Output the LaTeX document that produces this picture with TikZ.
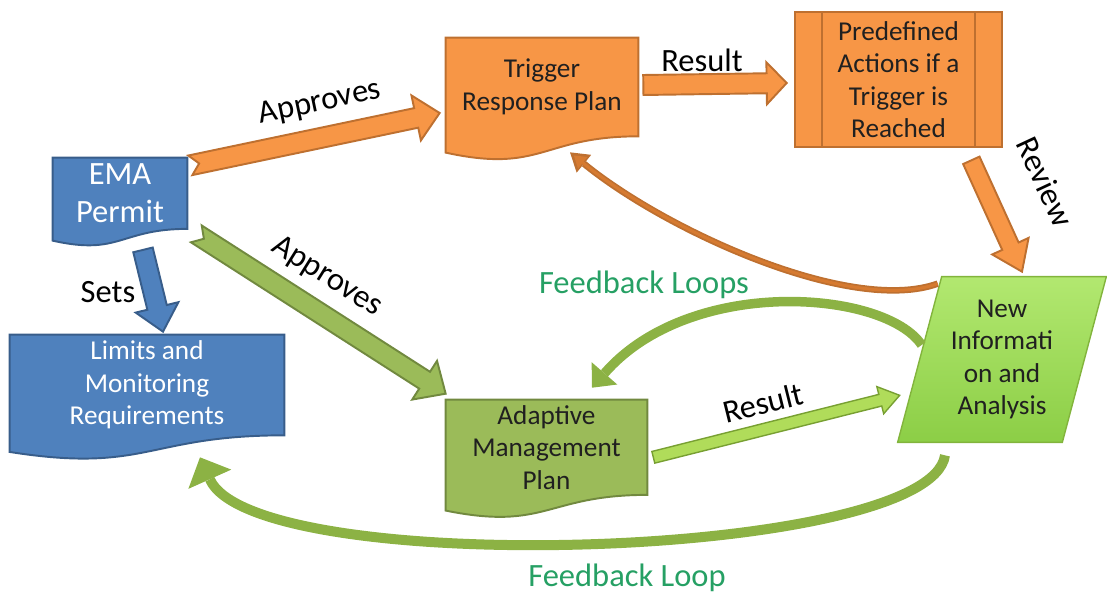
\documentclass[tikz,border=0pt]{standalone}
\usepackage{fontspec}
\setmainfont{Carlito}
\usetikzlibrary{calc,backgrounds,arrows.meta}

\definecolor{orFill}{RGB}{247,150,70}
\definecolor{orDraw}{RGB}{190,112,48}
\definecolor{buFill}{RGB}{79,129,189}
\definecolor{buDraw}{RGB}{56,93,138}
\definecolor{grFill}{RGB}{155,187,89}
\definecolor{grDraw}{RGB}{113,137,63}
\definecolor{lgFill}{RGB}{176,220,90}
\definecolor{lgDraw}{RGB}{120,160,50}
\definecolor{niTop}{RGB}{178,232,112}
\definecolor{niBot}{RGB}{140,206,70}
\definecolor{niDraw}{RGB}{130,180,60}
\definecolor{loopGreen}{RGB}{140,178,68}
\definecolor{loopText}{RGB}{38,160,100}
\definecolor{curveOr}{RGB}{214,122,48}
\definecolor{boxText}{RGB}{32,32,32}

\tikzset{
  planbox/.style={inner sep=0pt, align=center, text=boxText,
    font=\fontsize{15.5}{18.5}\selectfont},
  lbl/.style={inner sep=0pt, font=\fontsize{18.5}{22}\selectfont},
  fblbl/.style={lbl, text=loopText},
  orshape/.style={fill=orFill, draw=orDraw, line width=1.1pt},
  bushape/.style={fill=buFill, draw=buDraw, line width=1.1pt},
  grshape/.style={fill=grFill, draw=grDraw, line width=1.1pt},
  lgshape/.style={fill=lgFill, draw=lgDraw, line width=0.8pt},
  fbloop/.style={draw=loopGreen, line width=#1},
}

% box with a wavy lower edge
\newcommand\docshape[2]{%
  \filldraw[#2] (#1.north west) -- (#1.north east) -- (#1.south east)
    .. controls (#1.south) and ($(#1.south)!-0.38!(#1.north)$)
    .. ($(#1.south west)!-0.165!(#1.north west)$) -- cycle;}

% straight block arrow: style, from, to, half shaft, half head, head length, notch
\newcommand\blockarrow[7]{%
  \coordinate (ah) at ($(#3)!#6!(#2)$);
  \coordinate (an) at ($(#2)!#7!(#3)$);
  \filldraw[#1] ($(#2)!#4!90:(#3)$) -- ($(ah)!#4!-90:(#2)$)
    -- ($(ah)!#5!-90:(#2)$) -- (#3) -- ($(ah)!#5!90:(#2)$)
    -- ($(ah)!#4!90:(#2)$) -- ($(#2)!#4!-90:(#3)$) -- (an) -- cycle;}

\begin{document}
\begin{tikzpicture}[x=0.02cm, y=-0.02cm]
\useasboundingbox (0,0) rectangle (1107,597);

% boxes
\node[planbox, minimum width=3.84cm, minimum height=1.96cm] (trp) at (542,87) {Trigger\\Response Plan};
\node[planbox, minimum width=4.14cm, minimum height=2.7cm] (pda) at (898.5,79.5) {Predefined\\Actions if a\\Trigger is\\Reached};
\node[planbox, text=white, font=\fontsize{18.5}{21.5}\selectfont, minimum width=2.68cm, minimum height=1.41cm] (ema) at (120,193.3) {EMA\\Permit};
\node[planbox, text=white, minimum width=5.48cm, minimum height=2cm] (lim) at (147,385) {Limits and\\Monitoring\\Requirements};
\node[planbox, minimum width=4.02cm, minimum height=1.89cm] (amp) at (546.5,447.3) {Adaptive\\Management\\Plan};
\node[planbox, minimum width=3.28cm, minimum height=3.3cm] (nia) at (1002,359.5) {New\\Informati\\on and\\Analysis};

\begin{scope}[on background layer]
\docshape{trp}{orshape}
\docshape{ema}{bushape}
\docshape{lim}{bushape}
\docshape{amp}{grshape}
\filldraw[orshape] (pda.north west) rectangle (pda.south east);
\draw[orshape] ([xshift=0.54cm]pda.north west) -- ([xshift=0.54cm]pda.south west)
  ([xshift=-0.54cm]pda.north east) -- ([xshift=-0.54cm]pda.south east);
\path[draw=niDraw, line width=0.8pt, top color=niTop, bottom color=niBot]
  ([shift={(22,0)}]nia.north west) -- ([shift={(22,0)}]nia.north east)
  -- ([shift={(-22,0)}]nia.south east) -- ([shift={(-22,0)}]nia.south west) -- cycle;
\end{scope}

% arrow ends
\coordinate (ap1s) at ([shift={(3,-28)}]ema.east);
\coordinate (ap1e) at ([shift={(-6,26)}]trp.west);
\coordinate (ap2s) at ([shift={(9,5)}]ema.south east);
\coordinate (ap2e) at ([shift={(0,-6)}]amp.north west);
\coordinate (sets) at ([shift={(23,21)}]ema.south);
\coordinate (setse) at ([shift={(16,-3)}]lim.north);
\coordinate (res1s) at ([shift={(5,-2)}]trp.east);
\coordinate (res1e) at ([shift={(-8,3.5)}]pda.west);
\coordinate (revs) at ([shift={(-31,13)}]pda.south east);
\coordinate (reve) at ([shift={(20,-5)}]nia.north);
\coordinate (res2s) at ([shift={(6,10)}]amp.east);
\coordinate (res2e) at ([shift={(-20,-47)}]nia.south west);
\coordinate (bks) at ([shift={(18,7)}]nia.north west);
\coordinate (bke) at ([shift={(28,16)}]trp.south);
\coordinate (fb1s) at ([shift={(2,-14.5)}]nia.west);
\coordinate (fb1e) at ([shift={(45.5,-12)}]amp.north);
\coordinate (fb2s) at ([shift={(-57,13)}]nia.south);
\coordinate (fb2e) at ([shift={(53,22)}]lim.south);

% straight arrows
\blockarrow{orshape}{ap1s}{ap1e}{0.2cm}{0.46cm}{0.48cm}{0.18cm}
\blockarrow{grshape}{ap2s}{ap2e}{0.2cm}{0.46cm}{0.5cm}{0.18cm}
\blockarrow{bushape}{sets}{setse}{0.2cm}{0.44cm}{0.5cm}{0cm}
\blockarrow{orshape}{res1s}{res1e}{0.2cm}{0.42cm}{0.4cm}{0cm}
\blockarrow{orshape}{revs}{reve}{0.18cm}{0.4cm}{0.56cm}{0cm}
\blockarrow{lgshape}{res2s}{res2e}{0.12cm}{0.28cm}{0.4cm}{0cm}

% curved arrows
\draw[orDraw, line width=0.13cm, -{Triangle[width=0.46cm,length=0.36cm,line width'=0pt]}]
  (bks) .. controls (850,315) and (665,230) .. (bke);
\draw[curveOr, line width=0.06cm, shorten >=0.1cm, -{Triangle[width=0.3cm,length=0.23cm,line width'=0pt]}]
  (bks) .. controls (850,315) and (665,230) .. (bke);
\draw[fbloop=0.19cm, -{Triangle[width=0.68cm,length=0.38cm,line width'=0pt]}, loopGreen]
  (fb1s) .. controls (885,290) and (690,275) .. (fb1e);
\draw[fbloop=0.2cm, -{Triangle[width=0.94cm,length=0.48cm,line width'=0pt]}, loopGreen]
  (fb2s) .. controls (930,560) and (255,580) .. (fb2e);

% labels
\node[lbl, rotate=12] (apl1) at (320,103) {Approves};
\node[lbl, rotate=-32] (apl2) at (327,277) {Approves};
\node[lbl] (setl) at (108,292) {Sets};
\node[lbl] (resl1) at (702,60) {Result};
\node[lbl, rotate=-65] (revl) at (1045,182) {Review};
\node[lbl, rotate=14] (resl2) at (763,403) {Result};
\node[fblbl] (fbl1) at (644,285) {Feedback Loops};
\node[fblbl] (fbl2) at (627,578) {Feedback Loop};

\end{tikzpicture}
\end{document}
